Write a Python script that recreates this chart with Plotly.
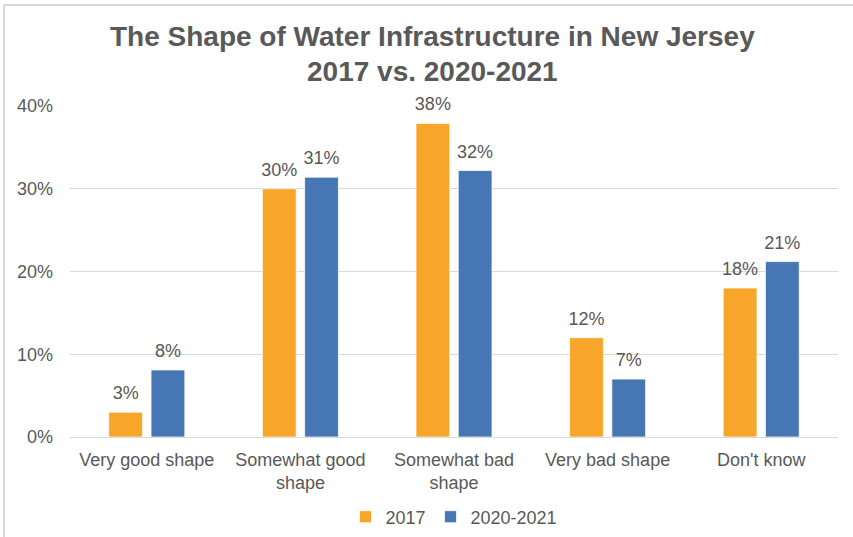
import plotly.graph_objects as go

categories = ["Very good shape", "Somewhat good<br>shape", "Somewhat bad<br>shape", "Very bad shape", "Don't know"]
series_names = ["2017", "2020-2021"]
values_2017 = [0.030, 0.300, 0.379, 0.120, 0.180]
values_2020 = [0.081, 0.314, 0.322, 0.070, 0.212]
y_ticks = [0, 0.1, 0.2, 0.3, 0.4]
y_tick_labels = ["0%", "10%", "20%", "30%", "40%"]

ORANGE = "#F8A62A"
BLUE = "#4677B4"
TEXT = "#595959"
GRID = "#D9D9D9"
FONT = "Liberation Sans, Arial, sans-serif"

fig = go.Figure()
series = [(series_names[0], values_2017, ORANGE, "g1"), (series_names[1], values_2020, BLUE, "g2")]
for name, vals, col, grp in series:
    fig.add_trace(go.Bar(
        x=categories, y=vals, name=name, offsetgroup=grp,
        marker=dict(color=col, line=dict(color="white", width=0.75)),
        hoverinfo="skip",
    ))
for name, vals, col, grp in series:
    fig.add_trace(go.Scatter(
        x=categories, y=vals, name=name, offsetgroup=grp, showlegend=False,
        mode="markers+text", marker=dict(size=12, opacity=0, color=col),
        text=[f"{v:.0%}" for v in vals], textposition="top center",
        textfont=dict(size=18, color=TEXT, family=FONT),
        cliponaxis=False, hoverinfo="skip",
    ))

W, H = 853, 537
L, R, T, B = 70, 15, 106, 100
pw, ph = W - L - R, H - T - B

def px(x):
    return (x - L) / pw

def py(y):
    return (H - B - y) / ph

fig.update_layout(
    width=W, height=H,
    margin=dict(l=L, r=R, t=T, b=B, autoexpand=False),
    paper_bgcolor="white", plot_bgcolor="white",
    font=dict(family=FONT, color=TEXT, size=18),
    barmode="group", bargap=0.45, bargroupgap=0.2,
    scattermode="group", scattergap=0.45,
    showlegend=True,
    legend=dict(orientation="h", x=0.5, xanchor="center", y=py(517), yanchor="middle",
                font=dict(size=18, color=TEXT), itemwidth=30, traceorder="normal"),
    xaxis=dict(showgrid=False, showline=True, linecolor=GRID, linewidth=1, automargin=False,
               tickfont=dict(size=18, color=TEXT), ticks="", ticklabelstandoff=6,
               fixedrange=True),
    yaxis=dict(range=[0, 0.4], tickvals=y_ticks, ticktext=y_tick_labels, automargin=False,
               showgrid=True, gridcolor=GRID, gridwidth=1, zeroline=False,
               showline=False, ticks="", ticklabelstandoff=16,
               tickfont=dict(size=18, color=TEXT)),
    annotations=[
        dict(text="<b>The Shape of Water Infrastructure in New Jersey</b>", x=px(432), y=py(36),
             xref="paper", yref="paper", xanchor="center", yanchor="middle", showarrow=False,
             font=dict(size=28, color=TEXT, family=FONT)),
        dict(text="<b>2017 vs. 2020-2021</b>", x=px(432), y=py(71),
             xref="paper", yref="paper", xanchor="center", yanchor="middle", showarrow=False,
             font=dict(size=28, color=TEXT, family=FONT)),
    ],
    shapes=[
        dict(type="line", xref="paper", yref="paper", x0=px(4), x1=px(W + 5), y0=py(5), y1=py(5),
             line=dict(color=GRID, width=2)),
        dict(type="line", xref="paper", yref="paper", x0=px(4), x1=px(4), y0=py(5), y1=py(H + 5),
             line=dict(color=GRID, width=2)),
    ],
)

fig.write_html("out.html", config={"displayModeBar": False},
               post_script="document.body.style.margin='0';document.body.style.overflow='hidden';")
